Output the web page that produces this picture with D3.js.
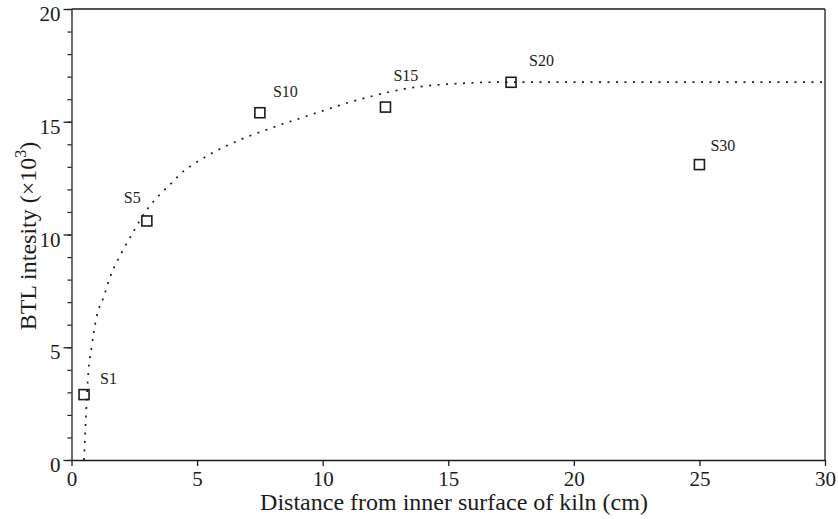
<!DOCTYPE html>
<html>
<head>
<meta charset="utf-8">
<script src="https://cdn.jsdelivr.net/npm/d3@7"></script>
<style>
  body { margin: 0; background: #fff; }
  svg { display: block; font-family: "Liberation Serif", "DejaVu Serif", serif; }
</style>
</head>
<body>
<div id="chart"></div>
<script>
// sample names, distance (cm) and BTL intensity (x10^3)
const sampleNames = ["S1", "S5", "S10", "S15", "S20", "S30"]
const sampleDist = [0.5, 3, 7.5, 12.5, 17.5, 25]
const sampleBTL = [2.9, 10.6, 15.4, 15.65, 16.75, 13.1]

// fitted dotted curve
const curveDist = [0.5, 0.58, 0.67, 0.8, 1.0, 1.27, 1.6, 2.0, 2.45, 3.0, 3.5, 4.0, 4.3, 4.9, 5.5, 6.71, 7.9, 9.5, 11.5, 13.5, 15.5, 17.2, 20, 25, 30]
const curveBTL = [0, 2.1, 3.85, 5.0, 6.35, 7.2, 8.3, 9.2, 10.1, 11.1, 11.75, 12.3, 12.65, 13.15, 13.55, 14.2, 14.7, 15.3, 16.0, 16.5, 16.7, 16.76, 16.76, 16.76, 16.76]

const xTicks = [0, 5, 10, 15, 20, 25, 30]
const yTicks = [0, 5, 10, 15, 20]

// label offsets for the sample names
const labelDx = [16, -23, 13, 8, 18, 11]
const labelDy = [-11, -18, -16, -26, -16, -14]

const width = 838
const height = 519
const margin = {top: 9, right: 13, bottom: 59, left: 71.5}
const innerWidth = width - margin.left - margin.right
const innerHeight = height - margin.top - margin.bottom
const ink = "#1c1c1c"

const svg = d3.select("#chart").append("svg")
              .attr("width", width)
              .attr("height", height)

const chart = svg.append("g")
                 .attr("transform", `translate(${margin.left}, ${margin.top})`)

const xScale = d3.scaleLinear().domain([0, 30]).range([0, innerWidth])
const yScale = d3.scaleLinear().domain([0, 20]).range([innerHeight, 0])

// frame (top and right)
chart.append("line")
     .attr("x1", 0).attr("x2", innerWidth).attr("y1", 0).attr("y2", 0)
     .attr("stroke", ink).attr("stroke-width", 1.3)
chart.append("line")
     .attr("x1", innerWidth).attr("x2", innerWidth).attr("y1", 0).attr("y2", innerHeight)
     .attr("stroke", ink).attr("stroke-width", 1.3)

// x axis
const xAxis = chart.append("g")
                   .attr("transform", `translate(0,${innerHeight})`)
                   .call(d3.axisBottom(xScale).tickValues(xTicks).tickSize(6).tickSizeOuter(0).tickPadding(5))
xAxis.select(".domain").attr("stroke", ink).attr("stroke-width", 1.3)
xAxis.selectAll("line").attr("stroke", ink).attr("stroke-width", 1.3)
xAxis.selectAll("text").attr("fill", ink).style("font-size", "21px").style("font-family", "Liberation Serif")

// y axis with minor ticks
const yAxis = chart.append("g")
                   .call(d3.axisLeft(yScale).tickValues(yTicks).tickSize(8).tickSizeOuter(0).tickPadding(3))
yAxis.select(".domain").attr("stroke", ink).attr("stroke-width", 1.3)
yAxis.selectAll("line").attr("stroke", ink).attr("stroke-width", 1.3)
yAxis.selectAll("text").attr("fill", ink).attr("dy", "0.55em").style("font-size", "21px").style("font-family", "Liberation Serif")

chart.append("g")
     .call(d3.axisLeft(yScale).ticks(20).tickSize(4).tickFormat(""))
     .call(g => g.select(".domain").remove())
     .selectAll("line").attr("stroke", ink).attr("stroke-width", 1.2)

// axis titles
svg.append("text")
   .attr("x", 454)
   .attr("y", 510)
   .attr("text-anchor", "middle")
   .attr("fill", ink)
   .style("font-size", "24px")
   .text("Distance from inner surface of kiln (cm)")

const yTitle = svg.append("text")
                  .attr("transform", `translate(36, 236) rotate(-90)`)
                  .attr("text-anchor", "middle")
                  .attr("fill", ink)
                  .style("font-size", "24px")
yTitle.append("tspan").text("BTL intesity (\u00d710")
yTitle.append("tspan").attr("dy", -10).style("font-size", "16px").text("3")
yTitle.append("tspan").attr("dy", 10).text(")")

// dotted fit curve
const curveData = curveDist.map((d, i) => ({x: d, y: curveBTL[i]}))
chart.append("path")
     .datum(curveData)
     .attr("fill", "none")
     .attr("stroke", ink)
     .attr("stroke-width", 1.7)
     .attr("stroke-dasharray", "2,6.5")
     .attr("d", d3.line().x(d => xScale(d.x)).y(d => yScale(d.y)).curve(d3.curveMonotoneX))

// sample points
const samples = sampleNames.map((name, i) => ({name, x: sampleDist[i], y: sampleBTL[i], dx: labelDx[i], dy: labelDy[i]}))
const boxSize = 10
chart.selectAll(".pt")
     .data(samples)
     .join("rect")
     .attr("class", "pt")
     .attr("x", d => xScale(d.x) - boxSize / 2)
     .attr("y", d => yScale(d.y) - boxSize / 2)
     .attr("width", boxSize)
     .attr("height", boxSize)
     .attr("fill", "none")
     .attr("stroke", ink)
     .attr("stroke-width", 1.6)

chart.selectAll(".lbl")
     .data(samples)
     .join("text")
     .attr("class", "lbl")
     .attr("x", d => xScale(d.x) + d.dx)
     .attr("y", d => yScale(d.y) + d.dy)
     .attr("fill", ink)
     .style("font-size", "16px")
     .text(d => d.name)
</script>
</body>
</html>
